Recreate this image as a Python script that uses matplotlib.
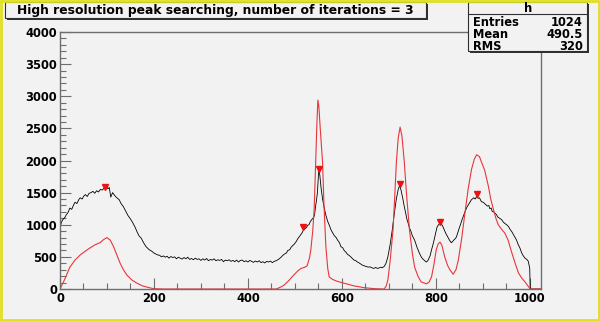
import numpy as np
import matplotlib
matplotlib.use('Agg')
import matplotlib.pyplot as plt
from matplotlib.patches import Rectangle
from matplotlib.ticker import MultipleLocator

# исходный спектр: пары (канал, отсчёты)
src = [(0, 950), (3, 1040), (6, 1080), (10, 1110), (13, 1150), (17, 1190), (21, 1260),
       (25, 1240), (29, 1310), (32, 1350), (36, 1330), (40, 1390), (43, 1420), (47, 1400),
       (51, 1450), (54, 1470), (58, 1440), (62, 1490), (66, 1500), (70, 1520), (74, 1490),
       (78, 1530), (82, 1510), (86, 1550), (90, 1540), (94, 1570), (98, 1610), (102, 1560),
       (105, 1580), (108, 1430), (112, 1500), (117, 1450), (121, 1420), (126, 1390),
       (130, 1330), (135, 1280), (140, 1210), (145, 1140), (150, 1090), (155, 1030),
       (160, 960), (164, 890), (168, 830), (173, 790), (178, 720), (183, 660), (186, 640),
       (190, 610), (195, 590), (200, 560), (204, 545), (208, 530), (212, 525), (216, 500),
       (220, 515), (224, 495), (228, 510), (232, 480), (236, 505), (240, 490), (244, 500),
       (248, 470), (252, 495), (256, 480), (260, 465), (264, 490), (268, 470), (272, 495),
       (276, 460), (280, 475), (284, 455), (288, 480), (292, 460), (296, 470), (300, 445),
       (304, 470), (308, 450), (312, 475), (316, 440), (320, 460), (324, 450), (328, 470),
       (332, 440), (336, 455), (340, 445), (344, 460), (348, 425), (352, 450), (356, 440),
       (360, 455), (364, 430), (368, 445), (372, 425), (376, 450), (380, 420), (384, 445),
       (388, 450), (392, 425), (396, 440), (400, 420), (404, 445), (408, 430), (412, 415),
       (416, 435), (420, 420), (424, 440), (428, 410), (432, 425), (436, 405), (440, 430),
       (444, 420), (448, 435), (452, 410), (456, 430), (460, 440), (465, 460), (470, 490),
       (474, 520), (478, 545), (482, 560), (485, 600), (489, 610), (492, 650), (496, 680),
       (499, 700), (503, 740), (506, 780), (509, 810), (512, 840), (515, 870), (517, 900),
       (520, 930), (522, 940), (525, 960), (527, 990), (530, 1000), (533, 1050), (536, 1080),
       (538, 1100), (540, 1110), (542, 1160), (544, 1280), (546, 1380), (548, 1500),
       (549, 1640), (550, 1750), (551, 1850), (553, 1780), (556, 1560), (559, 1400),
       (562, 1280), (566, 1150), (570, 1050), (574, 980), (577, 920), (581, 870), (584, 830),
       (588, 800), (591, 760), (595, 720), (598, 660), (602, 640), (605, 600), (609, 570),
       (612, 540), (616, 520), (619, 500), (623, 470), (626, 450), (630, 440), (633, 420),
       (637, 405), (640, 390), (644, 370), (648, 360), (652, 350), (656, 340), (660, 345),
       (664, 330), (668, 320), (672, 335), (676, 320), (680, 330), (683, 340), (686, 330),
       (690, 350), (694, 400), (698, 500), (703, 700), (707, 900), (712, 1190), (716, 1400),
       (720, 1550), (723, 1610), (726, 1540), (730, 1400), (733, 1280), (736, 1180),
       (738, 1100), (741, 1030), (744, 950), (747, 900), (750, 830), (755, 760), (760, 650),
       (765, 560), (769, 500), (772, 470), (775, 450), (778, 430), (780, 420), (783, 440),
       (785, 470), (788, 520), (791, 610), (794, 690), (797, 780), (800, 880), (803, 970),
       (807, 1010), (810, 1030), (814, 990), (818, 920), (821, 870), (824, 830), (827, 790),
       (830, 750), (833, 720), (836, 740), (838, 760), (841, 780), (844, 810), (847, 880),
       (850, 950), (853, 1010), (855, 1060), (858, 1120), (861, 1180), (866, 1270),
       (871, 1330), (876, 1390), (881, 1420), (884, 1400), (887, 1440), (890, 1410),
       (893, 1420), (897, 1360), (901, 1350), (904, 1330), (907, 1310), (910, 1290),
       (913, 1300), (915, 1250), (918, 1260), (920, 1210), (923, 1200), (926, 1180),
       (929, 1160), (932, 1120), (936, 1100), (940, 1080), (944, 1040), (947, 1020),
       (951, 1000), (955, 970), (958, 930), (962, 890), (965, 850), (968, 810), (972, 760),
       (975, 700), (979, 640), (983, 560), (986, 520), (990, 480), (994, 460), (997, 430),
       (1000, 320), (1001, 0), (1024, 0)]

# спектр после деконволюции: пары (канал, отсчёты)
dec = [(0, 0), (10, 150), (21, 340), (32, 450), (43, 530), (54, 590), (64, 640), (75, 690),
       (85, 720), (93, 770), (100, 800), (107, 760), (114, 660), (121, 530), (128, 400),
       (135, 300), (142, 220), (153, 140), (164, 90), (175, 50), (185, 30), (199, 5),
       (220, 0), (460, 0), (470, 30), (477, 60), (487, 130), (498, 220), (506, 280),
       (513, 320), (520, 335), (526, 360), (531, 480), (534, 610), (538, 900), (541, 1230),
       (544, 1900), (547, 2600), (549, 2940), (551, 2850), (554, 2500), (559, 1970),
       (562, 1300), (566, 660), (570, 320), (573, 190), (580, 150), (590, 120), (605, 90),
       (625, 50), (648, 20), (670, 5), (690, 0), (694, 40), (698, 140), (703, 450),
       (709, 920), (713, 1500), (716, 1960), (720, 2350), (724, 2520), (728, 2380),
       (733, 1970), (738, 1450), (744, 920), (750, 560), (755, 340), (762, 200), (769, 110),
       (780, 80), (786, 110), (791, 190), (796, 380), (801, 610), (805, 700), (809, 730),
       (813, 680), (819, 500), (825, 370), (830, 300), (837, 230), (843, 300), (848, 450),
       (855, 780), (862, 1180), (869, 1560), (876, 1860), (882, 2020), (887, 2090),
       (893, 2060), (897, 1980), (904, 1850), (912, 1600), (917, 1400), (923, 1230),
       (928, 1100), (933, 1000), (940, 930), (947, 870), (954, 760), (962, 560), (969, 400),
       (976, 250), (983, 170), (990, 110), (996, 50), (1001, 0), (1024, 0)]

# найденные пики (положение маркера)
peak_x = [96, 517, 551, 723, 810, 887]
peak_y = [1590, 960, 1870, 1630, 1040, 1480]

title = 'High resolution peak searching, number of iterations = 3'
stats_names = ['Entries', 'Mean', 'RMS']
stats_vals = ['1024', '490.5', '320']

src_ch, src_val = zip(*src)
dec_ch, dec_val = zip(*dec)

bg = '#f2f2f2'
W, H = 600, 321
fig = plt.figure(figsize=(W / 100, H / 100), dpi=100, facecolor=bg)

ax = fig.add_axes([60 / W, 1 - 289 / H, 481 / W, 257 / H], facecolor=bg)
ax.plot(src_ch, src_val, color='black', lw=0.6)
ax.plot(dec_ch, dec_val, color='#e8353a', lw=0.8)
ax.plot(peak_x, peak_y, 'v', color='#ee1111', ms=4.5, mec='#ee1111')
ax.set_xlim(0, 1024)
ax.set_ylim(0, 4000)
ax.xaxis.set_major_locator(MultipleLocator(200))
ax.xaxis.set_minor_locator(MultipleLocator(50))
ax.yaxis.set_major_locator(MultipleLocator(500))
ax.yaxis.set_minor_locator(MultipleLocator(100))
for s in ax.spines.values():
    s.set_color('#6e6e6e')
    s.set_linewidth(1.0)
ax.tick_params(which='both', direction='in', color='#6e6e6e', width=0.8,
               top=False, right=False)
ax.tick_params(which='major', length=8, pad=2, labelsize=8.3)
ax.tick_params(which='minor', length=4)
for lab in ax.get_xticklabels() + ax.get_yticklabels():
    lab.set_fontweight('bold')
    lab.set_family('DejaVu Sans')

# слой для рамок заголовка и статистики
ov = fig.add_axes([0, 0, 1, 1], zorder=5)
ov.set_xlim(0, W)
ov.set_ylim(H, 0)
ov.axis('off')
ov.patch.set_alpha(0)


def pave(x0, y0, x1, y1):
    ov.add_patch(Rectangle((x0 + 2, y0 + 2), x1 - x0, y1 - y0, fc='#303030', ec='none'))
    ov.add_patch(Rectangle((x0, y0), x1 - x0, y1 - y0, fc=bg, ec='#303030', lw=0.8))


pave(5, 2, 426, 18)
ov.text(17, 10.5, title, fontsize=8.9, fontweight='bold', family='DejaVu Sans',
        ha='left', va='center')

pave(468, 2, 587, 51)
ov.plot([468, 587], [14, 14], color='#303030', lw=0.8)
ov.text(528, 8.5, 'h', fontsize=8.3, fontweight='bold', family='DejaVu Sans',
        ha='center', va='center')
for i, (n, v) in enumerate(zip(stats_names, stats_vals)):
    yy = 22 + i * 12
    ov.text(473, yy, n, fontsize=8.3, fontweight='bold', family='DejaVu Sans',
            ha='left', va='center')
    ov.text(583, yy, v, fontsize=8.3, fontweight='bold', family='DejaVu Sans',
            ha='right', va='center')

# жёлтая рамка канваса
ov.add_patch(Rectangle((1, 1), W - 2, H - 2, fc='none', ec='#e0e020', lw=2))

fig.savefig('out.png', dpi=100, facecolor=bg)
